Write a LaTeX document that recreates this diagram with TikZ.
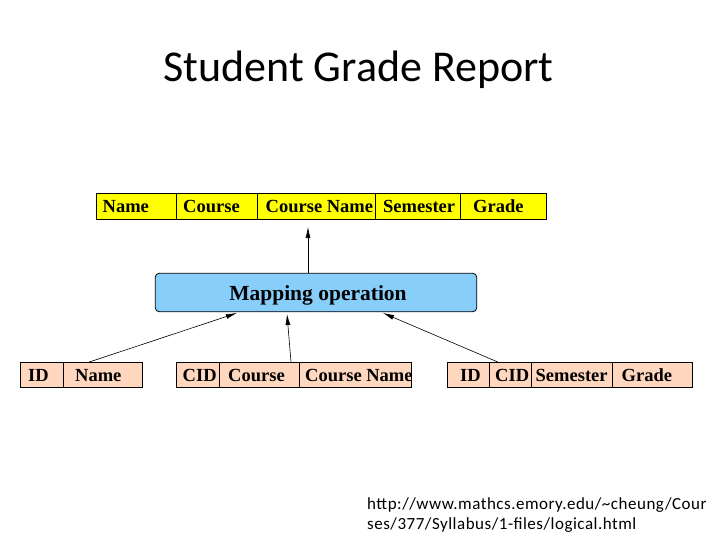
\documentclass[tikz,border=0pt]{standalone}
\usepackage{fontspec}
\setmainfont{Carlito}
\newfontfamily\tabfont{Liberation Serif}
\newfontfamily\urlfont[LetterSpace=3]{Carlito}
\usetikzlibrary{arrows.meta}
\definecolor{cellyellow}{RGB}{255,255,0}
\definecolor{cellpeach}{RGB}{255,214,190}
\definecolor{mapblue}{RGB}{135,206,250}
\tikzset{
  cellbox/.style={draw=black, line width=0.8pt, inner sep=0pt, minimum height=#1},
  ylw/.style={cellbox=26pt, fill=cellyellow},
  pch/.style={cellbox=25pt, fill=cellpeach},
  celltext/.style={anchor=base west, inner sep=0pt, font=\tabfont\bfseries\fontsize{18.5}{20}\selectfont},
  conn/.style={line width=0.6pt, -{Latex[length=11pt,width=5pt]}}
}
% #1 name, #2 x0, #3 x1, #4 ycenter, #5 style, #6 text x, #7 text
\newcommand\tabcell[7]{%
  \node[#5, minimum width={(#3-#2)*1pt}] (#1) at ({(#2+#3)/2}, #4) {};
  \node[celltext] (#1t) at (#6, #4+6.5) {#7};
}
\begin{document}
\begin{tikzpicture}[x=1pt, y=-1pt]
\useasboundingbox (0,0) rectangle (720,540);
% title
\node[anchor=base, inner sep=0pt, font=\fontsize{44}{50}\selectfont] (title) at (358.5,81.5) {Student Grade Report};
% top table
\tabcell{tName}{96.5}{176.5}{206}{ylw}{102.5}{Name}
\tabcell{tCourse}{176.5}{257.5}{206}{ylw}{183}{Course}
\tabcell{tCName}{257.5}{375.5}{206}{ylw}{265.5}{Course Name}
\tabcell{tSem}{375.5}{460}{206}{ylw}{383}{Semester}
\tabcell{tGrade}{460}{546.5}{206}{ylw}{473}{Grade}
% mapping
\node[draw=black, line width=0.8pt, fill=mapblue, rounded corners=4pt, minimum width=321.5pt, minimum height=38.5pt, inner sep=0pt] (map) at (316,292.5) {};
\node[anchor=base, inner sep=0pt, font=\tabfont\bfseries\fontsize{21.5}{24}\selectfont] (mapt) at (318,300) {Mapping operation};
% bottom left table
\tabcell{aID}{20}{63}{375}{pch}{28}{ID}
\tabcell{aName}{63}{142}{375}{pch}{75}{Name}
% bottom middle table
\tabcell{bCID}{176.5}{219}{375}{pch}{182.5}{CID}
\tabcell{bCourse}{219}{299.5}{375}{pch}{228}{Course}
\tabcell{bCName}{299.5}{411}{375}{pch}{305}{Course Name}
% bottom right table
\tabcell{cID}{447.5}{489}{375}{pch}{460}{ID}
\tabcell{cCID}{489}{531.5}{375}{pch}{495}{CID}
\tabcell{cSem}{531.5}{612.5}{375}{pch}{535.5}{Semester}
\tabcell{cGrade}{612.5}{692.5}{375}{pch}{621.5}{Grade}
% arrow end points
\coordinate (eTop) at (308,227);
\coordinate (eL) at (237,313);
\coordinate (eM) at (287,314);
\coordinate (eR) at (383,313);
\draw[conn] (map.north -| eTop) -- (eTop);
\draw[conn] (aName.north -| 89,0) -- (eL);
\draw[conn] (bCName.north -| 291,0) -- (eM);
\draw[conn] (cCID.north -| 498,0) -- (eR);
% source
\node[anchor=north west, align=left, inner sep=0pt, font=\urlfont\fontsize{17}{20.5}\selectfont] (src) at (367,497) {http://www.mathcs.emory.edu/\textasciitilde cheung/Cour\\ses/377/Syllabus/1-files/logical.html};
\end{tikzpicture}
\end{document}
